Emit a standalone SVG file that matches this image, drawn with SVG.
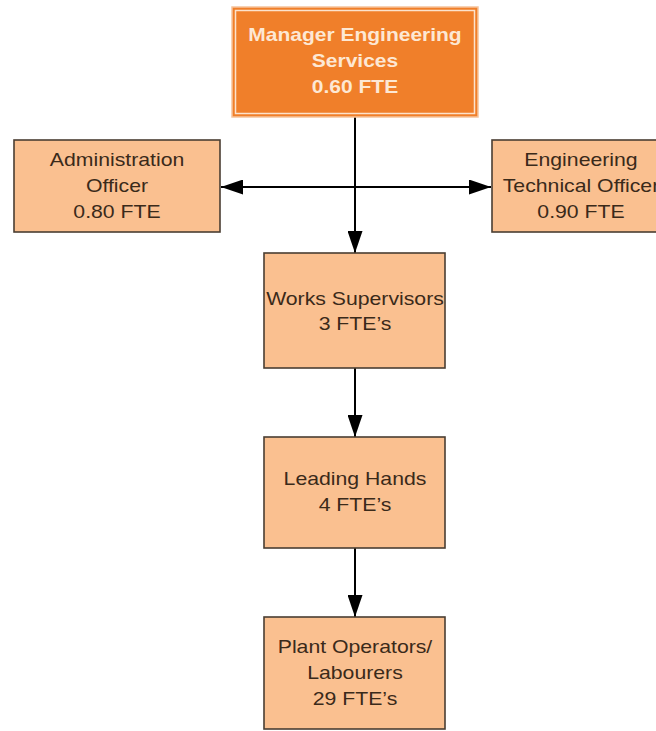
<svg xmlns="http://www.w3.org/2000/svg" width="656" height="731" viewBox="0 0 656 731">
<defs>
<style>
.box{fill:#FAC090;stroke:#4A3E32;stroke-width:1.6}
.txt{font-family:"Liberation Sans",Arial,sans-serif;font-size:18px;fill:#3A2A1A;text-anchor:middle}
.mtxt{font-family:"Liberation Sans",Arial,sans-serif;font-size:17.5px;font-weight:bold;fill:#FDE8D4;text-anchor:middle}
.con{stroke:#000;stroke-width:2;fill:none}
</style>
<marker id="ah" viewBox="0 0 22 15" refX="22" refY="7.5" markerWidth="22" markerHeight="15" markerUnits="userSpaceOnUse" orient="auto">
<path d="M0,0 L22,7.5 L0,15 z" fill="#000"/>
</marker>
</defs>
<rect width="656" height="731" fill="#fff"/>
<g id="connectors">
<line class="con" x1="355" y1="117" x2="355" y2="253" marker-end="url(#ah)"/>
<line class="con" x1="355" y1="187" x2="221" y2="187" marker-end="url(#ah)"/>
<line class="con" x1="355" y1="187" x2="491" y2="187" marker-end="url(#ah)"/>
<line class="con" x1="355" y1="368" x2="355" y2="437" marker-end="url(#ah)"/>
<line class="con" x1="355" y1="548" x2="355" y2="617" marker-end="url(#ah)"/>
</g>
<g id="manager">
<rect x="232" y="7" width="246" height="110" fill="#F07F2A" stroke="#F6C49C" stroke-width="1.5"/>
<rect x="235.5" y="10.5" width="239" height="103" fill="none" stroke="#FCE2CC" stroke-width="1.5"/>
<g transform="translate(355 0) scale(1.2 1)">
<text class="mtxt" x="0" y="41">Manager Engineering</text>
<text class="mtxt" x="0" y="67">Services</text>
<text class="mtxt" x="0" y="93">0.60 FTE</text>
</g>
</g>
<g id="admin">
<rect class="box" x="14" y="140" width="206" height="92"/>
<g transform="translate(117 0) scale(1.18 1)">
<text class="txt" x="0" y="166">Administration</text>
<text class="txt" x="0" y="192">Officer</text>
<text class="txt" x="0" y="218">0.80 FTE</text>
</g>
</g>
<g id="engtech">
<rect class="box" x="492" y="140" width="178" height="92"/>
<g transform="translate(581 0) scale(1.18 1)">
<text class="txt" x="0" y="166">Engineering</text>
<text class="txt" x="0" y="192">Technical Officer</text>
<text class="txt" x="0" y="218">0.90 FTE</text>
</g>
</g>
<g id="works">
<rect class="box" x="264" y="253" width="181" height="115"/>
<g transform="translate(355 0) scale(1.18 1)">
<text class="txt" x="0" y="305">Works Supervisors</text>
<text class="txt" x="0" y="330">3 FTE’s</text>
</g>
</g>
<g id="leading">
<rect class="box" x="264" y="437" width="181" height="111"/>
<g transform="translate(355 0) scale(1.18 1)">
<text class="txt" x="0" y="485">Leading Hands</text>
<text class="txt" x="0" y="511">4 FTE’s</text>
</g>
</g>
<g id="plant">
<rect class="box" x="264" y="617" width="181" height="112"/>
<g transform="translate(355 0) scale(1.18 1)">
<text class="txt" x="0" y="653">Plant Operators/</text>
<text class="txt" x="0" y="679">Labourers</text>
<text class="txt" x="0" y="705">29 FTE’s</text>
</g>
</g>
</svg>
